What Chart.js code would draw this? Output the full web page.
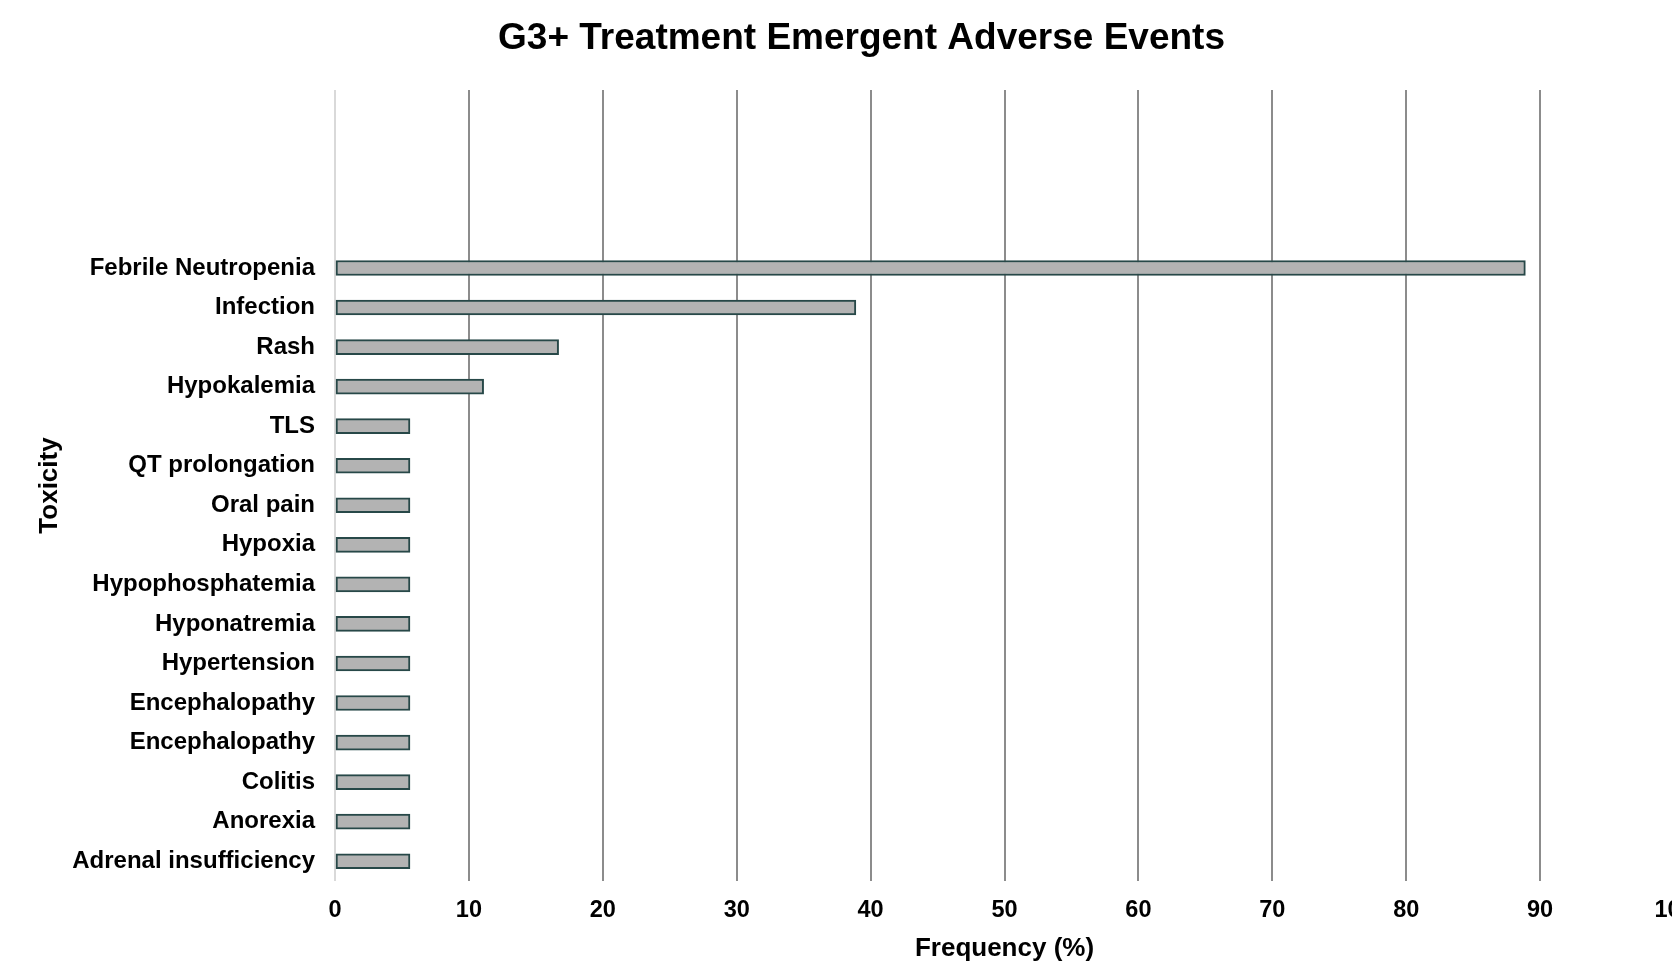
<!DOCTYPE html>
<html>
<head>
<meta charset="utf-8">
<title>G3+ Treatment Emergent Adverse Events</title>
<script src="https://cdn.jsdelivr.net/npm/chart.js@4.4.1/dist/chart.umd.min.js"></script>
<style>
  html, body { margin: 0; padding: 0; background: #fff; overflow: hidden; }
  #wrap { width: 1672px; height: 965px; overflow: hidden; }
</style>
</head>
<body>
<div id="wrap"><canvas id="grafica1" width="1723" height="965"></canvas></div>
<script>
// empty rows at the top of the axis
const blankRows = ["", "", "", ""];

const toxicities = [
  "Febrile Neutropenia",
  "Infection",
  "Rash",
  "Hypokalemia",
  "TLS",
  "QT prolongation",
  "Oral pain",
  "Hypoxia",
  "Hypophosphatemia",
  "Hyponatremia",
  "Hypertension",
  "Encephalopathy",
  "Encephalopathy",
  "Colitis",
  "Anorexia",
  "Adrenal insufficiency",
];

const frequencies = [88.9, 38.9, 16.7, 11.1, 5.6, 5.6, 5.6, 5.6, 5.6, 5.6, 5.6, 5.6, 5.6, 5.6, 5.6, 5.6];

const xTicks = [0, 10, 20, 30, 40, 50, 60, 70, 80, 90, 100];

const fontFamily = "'Liberation Sans', Arial, Helvetica, sans-serif";

document.addEventListener("DOMContentLoaded", function () {
  const ctx = document.getElementById("grafica1");

  new Chart(ctx, {
    type: "bar",
    data: {
      labels: blankRows.concat(toxicities),
      datasets: [
        {
          data: blankRows.map(() => null).concat(frequencies),
          backgroundColor: "#b3b3b3",
          borderColor: "#274848",
          borderWidth: 2,
          borderSkipped: false,
          barThickness: 15,
        },
      ],
    },
    options: {
      indexAxis: "y",
      responsive: false,
      animation: false,
      devicePixelRatio: 1,
      plugins: {
        legend: { display: false },
        tooltip: { enabled: false },
        title: {
          display: true,
          text: "G3+ Treatment Emergent Adverse Events",
          color: "#000",
          font: { family: fontFamily, size: 37, weight: "bold" },
          padding: { top: 16.6, bottom: 29 },
        },
      },
      scales: {
        x: {
          min: 0,
          max: 100,
          afterBuildTicks: (scale) => {
            scale.ticks = xTicks.map((v) => ({ value: v }));
          },
          afterFit: (scale) => {
            scale.height = 84;
            scale.paddingRight = 49; // room past the 100 line
          },
          ticks: {
            color: "#000",
            font: { family: fontFamily, size: 23.5, weight: "bold" },
            padding: 15,
            maxRotation: 0,
            autoSkip: false,
          },
          grid: {
            color: (c) => (c.tick && c.tick.value === 0 ? "#d9d9d9" : "#8c8c8c"),
            lineWidth: 2,
            drawTicks: false,
          },
          border: { display: false },
          title: {
            display: true,
            text: "Frequency (%)",
            color: "#000",
            font: { family: fontFamily, size: 26, weight: "bold" },
            padding: { top: 0, bottom: 1 },
          },
        },
        y: {
          afterFit: (scale) => {
            scale.width = 335;
          },
          ticks: {
            color: "#000",
            font: { family: fontFamily, size: 24, weight: "bold" },
            padding: 20,
            autoSkip: false,
          },
          grid: { display: false, drawTicks: false },
          border: { display: false },
          title: {
            display: true,
            text: "Toxicity",
            color: "#000",
            font: { family: fontFamily, size: 26, weight: "bold" },
            padding: { top: 34, bottom: 0 },
          },
        },
      },
    },
  });
});
</script>
</body>
</html>
